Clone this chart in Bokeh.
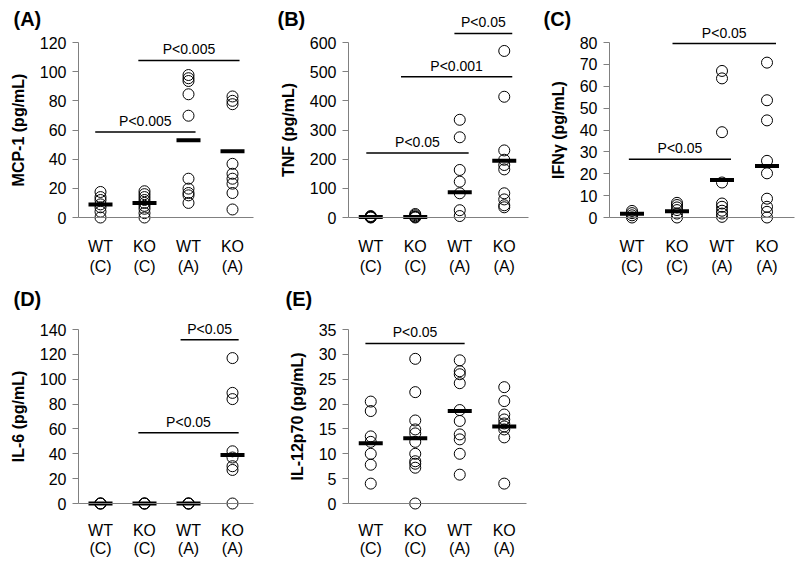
from bokeh.plotting import figure
from bokeh.models import FixedTicker, Label
from bokeh.layouts import row, column
from bokeh.embed import file_html
from bokeh.resources import INLINE
from bokeh.core.properties import value

# ---------------- data ----------------
groups = [1, 2, 3, 4]
group_labels = ["WT\n(C)", "KO\n(C)", "WT\n(A)", "KO\n(A)"]

mcp1 = [[17.5, 14, 12, 9, 7, 4, 0],
        [18, 16, 14, 12, 10, 8, 6, 3, 0],
        [97.7, 95.5, 93.6, 84.5, 69.8, 26.6, 19.8, 16.8, 15.2, 10],
        [83, 80, 77.7, 36.8, 30, 26.6, 23.2, 16.8, 5.5]]
mcp1_bar = [9, 10, 53, 45.5]
mcp1_sig = [(0.88, 3.16, 58.6, "P<0.005"), (1.86, 4.16, 107.7, "P<0.005")]

tnf = [[5, 3, 2, 1, 0],
       [12, 8, 4, 2, 0],
       [335, 275, 163, 123, 83, 25, 5],
       [571, 414, 230, 198, 180, 165, 83, 62, 42, 35]]
tnf_bar = [2, 2, 87, 195]
tnf_sig = [(0.9, 3.2, 221, "P<0.05"), (1.68, 4.18, 483, "P<0.001"), (2.88, 4.18, 631, "P<0.05")]

ifng = [[3, 2, 1, 0],
        [6.7, 5.7, 4.6, 3.4, 1.8, 0],
        [67, 63.6, 39, 16, 6.4, 4.9, 3.1, 1.8, 0.3],
        [70.8, 53.6, 44.4, 25.9, 20.2, 8.6, 4.9, 2.6, 0]]
ifng_bar = [1.7, 2.9, 17.2, 23.6]
ifng_sig = [(0.93, 3.2, 26.6, "P<0.05"), (1.9, 4.2, 79.5, "P<0.05")]

il6 = [[0, 0, 0],
       [0, 0, 0],
       [0, 0, 0],
       [117, 89, 84, 42, 37, 30, 27, 0]]
il6_bar = [0, 0, 0, 39]
il6_sig = [(1.86, 4.14, 57, "P<0.05"), (2.82, 4.14, 131.8, "P<0.05")]

il12 = [[20.5, 18.6, 13.5, 12.4, 10, 7.8, 4],
        [29.1, 22.4, 16.7, 14.9, 14.1, 12.4, 10, 8.5, 8, 7.2, 0],
        [28.8, 26.6, 26, 24.2, 18.8, 16.6, 13.9, 12.9, 10, 5.8],
        [23.4, 20.6, 17.9, 16.9, 16.1, 15.5, 14.9, 13.3, 4]]
il12_bar = [12.1, 13.1, 18.6, 15.5]
il12_sig = [(0.88, 3.11, 32.2, "P<0.05")]

# ---------------- style / layout ----------------
FONT = "Liberation Sans"
GRAY = "#808080"

# vertical geometry of each row (page pixels)
ROW1 = dict(top=0, height=288, zero=217, maxp=42, lh=1.2, lstand=20, tag_cy=18)
ROW2 = dict(top=288, height=279, zero=503, maxp=329, lh=1.1, lstand=18, tag_cy=298)


def panel(tag, ylabel, data, bars, sig, ymax, ystep, geo,
          left, width, axis_px, spacing, x_end, tag_left):
    # x mapping: data 0.5 sits on the y axis, one group per `spacing` px
    xs0 = 0.5 + (left - axis_px) / spacing
    xs1 = 0.5 + (left + width - axis_px) / spacing
    ppu = (geo["zero"] - geo["maxp"]) / ymax
    bottom = geo["top"] + geo["height"]
    ys0 = -(bottom - geo["zero"]) / ppu
    ys1 = (geo["zero"] - geo["top"]) / ppu

    p = figure(width=width, height=geo["height"], min_border=0,
               x_range=(xs0, xs1), y_range=(ys0, ys1),
               output_backend="svg", toolbar_location=None, tools="",
               x_axis_location="below", y_axis_location="left")
    p.xgrid.visible = False
    p.ygrid.visible = False
    p.outline_line_color = None

    xa = p.xaxis[0]
    xa.fixed_location = 0
    xa.bounds = (0.5, x_end)
    xa.ticker = FixedTicker(ticks=groups)
    xa.major_label_overrides = {g: l for g, l in zip(groups, group_labels)}
    xa.axis_line_color = GRAY
    xa.major_tick_line_color = None
    xa.major_tick_out = 0
    xa.major_tick_in = 0
    xa.minor_tick_line_color = None
    xa.major_label_text_font = FONT
    xa.major_label_text_font_size = "16px"
    xa.major_label_text_color = "black"
    xa.major_label_text_line_height = geo["lh"]
    xa.major_label_standoff = geo["lstand"]

    ya = p.yaxis[0]
    ya.fixed_location = 0.5
    ya.ticker = FixedTicker(ticks=list(range(0, ymax + 1, ystep)))
    ya.bounds = (0, ymax)
    ya.axis_line_color = GRAY
    ya.major_tick_line_color = GRAY
    ya.major_tick_out = 6
    ya.major_tick_in = 0
    ya.minor_tick_line_color = None
    ya.major_label_text_font = FONT
    ya.major_label_text_font_size = "16px"
    ya.major_label_text_color = "black"
    ya.major_label_standoff = 6
    ya.axis_label = ylabel
    ya.axis_label_text_font = FONT
    ya.axis_label_text_font_size = "16px"
    ya.axis_label_text_font_style = "bold"
    ya.axis_label_text_color = "black"
    ya.axis_label_standoff = 10

    xs, ys = [], []
    for g, vals in zip(groups, data):
        xs += [g] * len(vals)
        ys += vals
    p.scatter(xs, ys, marker="circle", size=11, fill_color=None,
              line_color="black", line_width=1)
    p.rect(x=groups, y=bars, width=24, height=4, width_units="screen",
           height_units="screen", fill_color="black", line_color=None)

    x0 = [s[0] for s in sig]
    x1 = [s[1] for s in sig]
    yy = [s[2] for s in sig]
    tt = [s[3] for s in sig]
    p.segment(x0, yy, x1, yy, line_color="black", line_width=1.5)
    p.text(x=[(a + b) / 2 for a, b in zip(x0, x1)], y=yy, text=tt,
           text_align="center", text_baseline="alphabetic", y_offset=-11,
           text_font=value(FONT), text_font_size="14px", text_color="black")

    p.add_layout(Label(x=tag_left - left, y=bottom - geo["tag_cy"],
                       x_units="screen", y_units="screen",
                       text=tag, text_font=FONT, text_font_size="20px",
                       text_font_style="bold", text_baseline="middle",
                       text_color="black"))
    return p


pa = panel("(A)", "MCP-1 (pg/mL)", mcp1, mcp1_bar, mcp1_sig, 120, 20, ROW1,
           0, 268, 78, 44, 4.48, 13)
pb = panel("(B)", "TNF (pg/mL)", tnf, tnf_bar, tnf_sig, 600, 100, ROW1,
           268, 262, 348, 44.5, 4.55, 277)
pc = panel("(C)", "IFNγ (pg/mL)", ifng, ifng_bar, ifng_sig, 80, 10, ROW1,
           530, 268, 609, 45, 4.6, 543)
pd = panel("(D)", "IL-6 (pg/mL)", il6, il6_bar, il6_sig, 140, 20, ROW2,
           0, 268, 78, 44, 4.48, 13)
pe = panel("(E)", "IL-12p70 (pg/mL)", il12, il12_bar, il12_sig, 35, 5, ROW2,
           268, 262, 348, 44.5, 4.5, 285)

layout = column(row(pa, pb, pc), row(pd, pe))
open("out.html", "w").write(file_html(layout, INLINE))
